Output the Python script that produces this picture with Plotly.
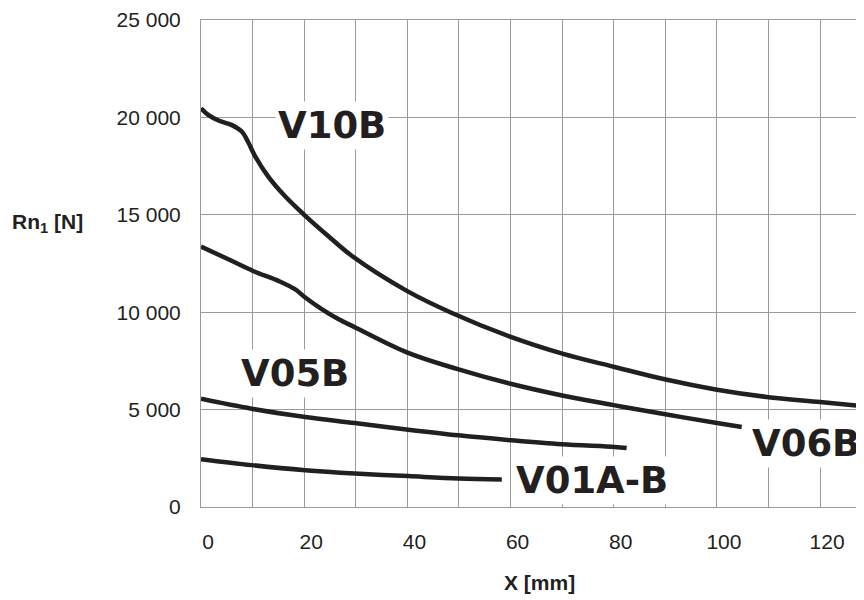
import plotly.graph_objects as go

# curve points (x in mm, Rn1 in N)
v10b_x = [0, 1.4, 3.4, 5.9, 7.9, 9.2, 10.5, 13.0, 16.3, 20.0, 24.7, 29.2, 39.9, 48.3, 59.9, 70.2, 80, 90.3, 100, 109.6, 120, 128.5]
v10b_y = [20470, 20130, 19840, 19615, 19275, 18700, 18000, 16975, 15950, 15000, 13900, 12900, 11095, 10000, 8745, 7860, 7200, 6530, 6020, 5650, 5385, 5165]

v06b_x = [0, 5.3, 10.1, 15.0, 18.2, 20.2, 23.4, 26.6, 29.8, 39.9, 49.6, 60, 70, 80, 90, 100, 104.8]
v06b_y = [13370, 12715, 12115, 11605, 11180, 10755, 10160, 9650, 9230, 7940, 7090, 6325, 5725, 5230, 4760, 4310, 4105]

v05b_x = [0, 9.8, 20.2, 29.8, 40.2, 49.9, 60.2, 69.9, 80.2, 82.5]
v05b_y = [5555, 5045, 4620, 4310, 3970, 3680, 3425, 3220, 3085, 3030]

v01_x = [0, 9.8, 20.2, 29.8, 40.2, 49.9, 58.3]
v01_y = [2455, 2150, 1890, 1720, 1585, 1465, 1415]

x_ticks = [0, 20, 40, 60, 80, 100, 120]
x_labels = ["0", "20", "40", "60", "80", "100", "120"]
x_grid = [10, 30, 50, 70, 90, 110]
y_ticks = [0, 5000, 10000, 15000, 20000, 25000]
y_labels = ["0", "5 000", "10 000", "15 000", "20 000", "25 000"]

# curve name labels: text, x, y
names = ["V10B", "V05B", "V06B", "V01A-B"]
name_x = [25.4, 18.2, 117.2, 75.7]
name_y = [19605, 6850, 3245, 1380]

ink = "#231f20"
grid = "#9a9a9a"

fig = go.Figure()
for xs, ys in [(v10b_x, v10b_y), (v06b_x, v06b_y), (v05b_x, v05b_y), (v01_x, v01_y)]:
    fig.add_trace(go.Scatter(x=xs, y=ys, mode="lines",
                             line=dict(color=ink, width=4.5, shape="spline", smoothing=1.0),
                             showlegend=False, hoverinfo="skip"))

for t, x, y in zip(names, name_x, name_y):
    fig.add_annotation(x=x, y=y, xref="x", yref="y", text="<b>" + t + "</b>",
                       showarrow=False, bgcolor="white", borderpad=2,
                       font=dict(family="DejaVu Sans", size=37, color=ink))

fig.add_annotation(x=-0.232, y=14570, xref="paper", yref="y", xanchor="center", yanchor="middle",
                   text="<b>Rn<sub>1</sub> [N]</b>",
                   showarrow=False, font=dict(family="Liberation Sans", size=21, color=ink))
fig.add_annotation(x=0.511, y=-0.155, xref="paper", yref="paper", xanchor="center", yanchor="middle",
                   text="<b>X [mm]</b>",
                   showarrow=False, font=dict(family="Liberation Sans", size=21, color=ink))

# page body has an 8px margin, so the figure is shrunk to keep the plot area in place
fig.update_layout(
    width=856, height=592,
    margin=dict(l=193, r=0, t=10, b=93),
    paper_bgcolor="white", plot_bgcolor="white",
    font=dict(family="Liberation Sans", size=21, color=ink),
    xaxis=dict(range=[0, 128.5], tickvals=x_ticks, ticktext=x_labels,
               showgrid=True, gridcolor=grid, gridwidth=1,
               minor=dict(tickvals=x_grid, showgrid=True, gridcolor=grid, gridwidth=1, ticks=""),
               showline=True, mirror=True, linecolor=grid, linewidth=1,
               zeroline=False, ticks="", ticklabelshift=7, ticklabelstandoff=16),
    yaxis=dict(range=[0, 25000], tickvals=y_ticks, ticktext=y_labels,
               showgrid=True, gridcolor=grid, gridwidth=1,
               showline=True, linecolor=grid, linewidth=1,
               zeroline=False, ticks="", ticklabelstandoff=15, ticklabeloverflow="allow"),
)

fig.write_html("out.html")
